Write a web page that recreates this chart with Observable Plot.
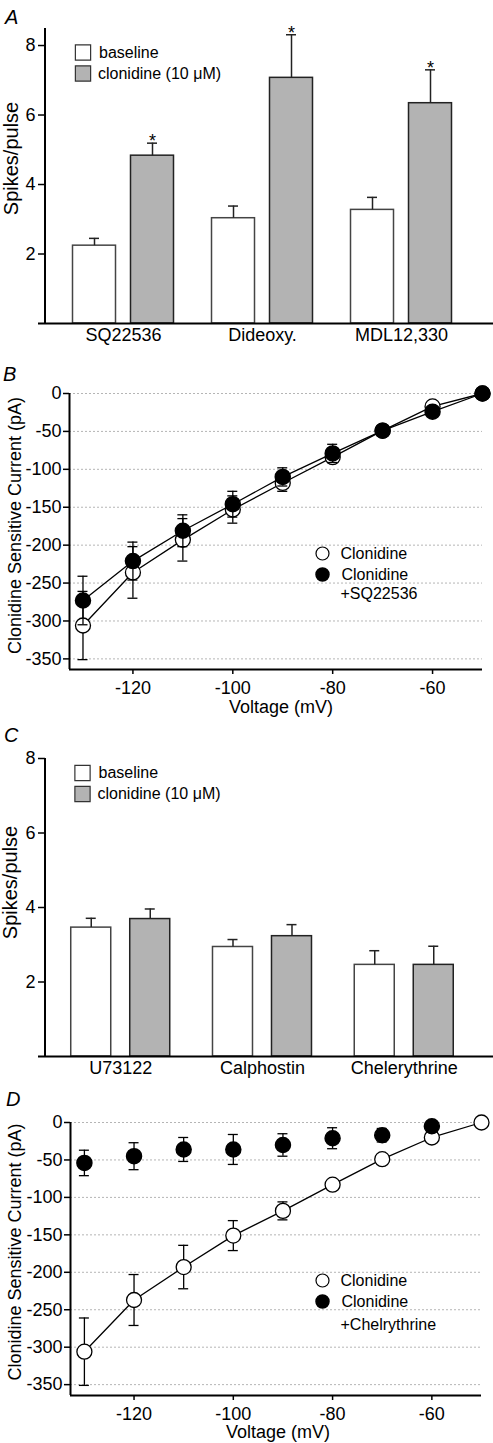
<!DOCTYPE html>
<html>
<head>
<meta charset="utf-8">
<script src="https://cdn.jsdelivr.net/npm/d3@7"></script>
<script src="https://cdn.jsdelivr.net/npm/@observablehq/plot@0.6"></script>
<style>
  html, body { margin: 0; padding: 0; background: #fff; }
  #root { position: relative; width: 493px; height: 1443px; overflow: hidden; font-family: "Liberation Sans", Arial, Helvetica, sans-serif; }
  .panel { position: absolute; left: 0; }
  .letter { position: absolute; font-style: italic; font-size: 20px; line-height: 1; color: #000; }
</style>
</head>
<body>
<div id="root"></div>
<script>
// ---------- DATA ----------
// Panel A
const catsA = ["SQ22536", "Dideoxy.", "MDL12,330"];
const baselineA = [2.24, 3.03, 3.27];
const baselineErrA = [0.21, 0.35, 0.36];
const clonidineA = [4.83, 7.07, 6.34];
const clonidineErrA = [0.36, 1.24, 0.96];
const starsA = [true, true, true];
const ticksA = [2, 4, 6, 8];

// Panel C
const catsC = ["U73122", "Calphostin", "Chelerythrine"];
const baselineC = [3.46, 2.94, 2.46];
const baselineErrC = [0.25, 0.20, 0.38];
const clonidineC = [3.69, 3.23, 2.46];
const clonidineErrC = [0.27, 0.31, 0.50];
const starsC = [false, false, false];
const ticksC = [2, 4, 6, 8];

// Panels B and D (I-V curves)
const voltage = [-130, -120, -110, -100, -90, -80, -70, -60, -50];
const voltageTicks = [-120, -100, -80, -60];
const currentTicks = [0, -50, -100, -150, -200, -250, -300, -350];

const clonidineB = [-306, -236, -193, -153, -118, -84, -49, -17, 0];
const clonidineErrB = [45, 34, 28, 18, 11, 7, 6, 3, 0];
const sqB = [-273, -221, -181, -146, -110, -79, -49, -24, 0];
const sqErrB = [32, 25, 21, 17, 12, 12, 6, 4, 0];

const clonidineD = [-306, -237, -193, -151, -118, -83, -49, -20, 0];
const clonidineErrD = [45, 34, 29, 20, 12, 6, 4, 3, 0];
const voltageChel = [-130, -120, -110, -100, -90, -80, -70, -60];
const chelD = [-54, -45, -36, -36, -30, -21, -17, -5];
const chelErrD = [17, 18, 16, 20, 15, 14, 9, 3];

// ---------- RENDER ----------
const FONT = '"Liberation Sans", Arial, Helvetica, sans-serif';
const hyphen = d => String(d);
const root = document.getElementById("root");
function place(node, top) {
  const d = document.createElement("div");
  d.className = "panel";
  d.style.top = top + "px";
  d.appendChild(node);
  root.appendChild(d);
}
function letter(t, left, top) {
  const d = document.createElement("div");
  d.className = "letter";
  d.textContent = t;
  d.style.left = left + "px";
  d.style.top = top + "px";
  root.appendChild(d);
}

function barChart(o) {
  const rowsBase = o.cats.map((c, i) => ({cat: c, v: o.base[i], top: o.base[i] + o.baseErr[i]}));
  const rowsClo = o.cats.map((c, i) => ({cat: c, v: o.clo[i], top: o.clo[i] + o.cloErr[i], star: o.stars[i]}));
  const ml = 45, width = 493;
  const fw = width - ml;
  const inset = o.bandW - o.barW;
  const off = (o.bandW - o.barW) / 2;
  const capIn = o.barW / 2 - 5, capOut = o.bandW - o.barW / 2 - 5;
  return Plot.plot({
    width, height: o.height,
    marginLeft: ml, marginRight: 0, marginTop: o.marginTop, marginBottom: o.marginBottom,
    style: {fontFamily: FONT, fontSize: "18px", color: "black", background: "white", overflow: "visible"},
    x: {domain: o.cats, paddingInner: o.pi, paddingOuter: o.po, align: o.align, round: false},
    y: {domain: [0, o.yMax]},
    marks: [
      Plot.barY(rowsBase, {x: "cat", y: "v", fill: "white", stroke: "#444", strokeWidth: 1.5, insetRight: inset}),
      Plot.barY(rowsClo, {x: "cat", y: "v", fill: "#b3b3b3", stroke: "#222", strokeWidth: 1.5, insetLeft: inset}),
      Plot.ruleX(rowsBase, {x: "cat", y1: "v", y2: "top", dx: -off, strokeWidth: 1.5, stroke: "#222"}),
      Plot.tickY(rowsBase, {x: "cat", y: "top", insetLeft: capIn, insetRight: capOut, strokeWidth: 1.5, stroke: "#222"}),
      Plot.ruleX(rowsClo, {x: "cat", y1: "v", y2: "top", dx: off, strokeWidth: 1.5, stroke: "#222"}),
      Plot.tickY(rowsClo, {x: "cat", y: "top", insetLeft: capOut, insetRight: capIn, strokeWidth: 1.5, stroke: "#222"}),
      Plot.text(rowsClo.filter(d => d.star), {x: "cat", y: "top", text: () => "*", dx: off, dy: 4, lineAnchor: "bottom", fontSize: 18}),
      Plot.axisY({ticks: o.ticks, tickSize: 7, tickPadding: 3, label: null, strokeWidth: 1.5}),
      Plot.axisX({tickSize: 0, tickPadding: 5, label: null}),
      Plot.ruleY([0], {strokeWidth: 2, insetLeft: -7}),
      Plot.rect([0], {y1: 0, y2: o.yMax, fill: "black", insetLeft: -1, insetRight: fw - 1}),
      Plot.text(["Spikes/pulse"], {frameAnchor: "left", rotate: -90, textAnchor: "middle", lineAnchor: "middle", dx: o.ylabDx, dy: o.ylabDy, fontSize: 20}),
      // legend
      Plot.dot([0], {frameAnchor: "top-left", dx: o.legDx, dy: o.legDy, symbol: "square", r: 8.6, fill: "white", stroke: "#333", strokeWidth: 1.2}),
      Plot.dot([0], {frameAnchor: "top-left", dx: o.legDx, dy: o.legDy + 21, symbol: "square", r: 8.6, fill: "#b3b3b3", stroke: "#333", strokeWidth: 1.2}),
      Plot.text(["baseline"], {frameAnchor: "top-left", dx: o.legDx + 16, dy: o.legDy, textAnchor: "start", lineAnchor: "middle", fontSize: 16}),
      Plot.text(["clonidine (10 μM)"], {frameAnchor: "top-left", dx: o.legDx + 15, dy: o.legDy + 21, textAnchor: "start", lineAnchor: "middle", fontSize: 16})
    ]
  });
}

function ivChart(o) {
  const s1 = voltage.map((v, i) => ({v, c: o.c1[i], e: o.e1[i]}));
  const s2 = o.v2.map((v, i) => ({v, c: o.c2[i], e: o.e2[i]}));
  const errMarks = (s) => [
    Plot.ruleX(s.filter(d => d.e > 0), {x: "v", y1: d => d.c - d.e, y2: d => d.c + d.e, strokeWidth: 1.3}),
    Plot.ruleY(s.filter(d => d.e > 0), {x1: "v", x2: "v", y: d => d.c - d.e, insetLeft: -5, insetRight: -5, strokeWidth: 1.3}),
    Plot.ruleY(s.filter(d => d.e > 0), {x1: "v", x2: "v", y: d => d.c + d.e, insetLeft: -5, insetRight: -5, strokeWidth: 1.3})
  ];
  return Plot.plot({
    width: 493, height: o.height,
    marginLeft: o.ml, marginRight: o.mr, marginTop: o.mt, marginBottom: o.mb,
    style: {fontFamily: FONT, fontSize: "18px", color: "black", background: "white", overflow: "visible"},
    x: {domain: o.xDomain},
    y: {domain: o.yDomain},
    marks: [
      Plot.ruleY(currentTicks, {stroke: "#b5b5b5", strokeDasharray: "2,2", strokeWidth: 1}),
      ...errMarks(s1),
      Plot.line(s1, {x: "v", y: "c", strokeWidth: 1.3}),
      Plot.dot(s1, {x: "v", y: "c", r: 7.5, fill: "white", stroke: "black", strokeWidth: 1.3}),
      ...errMarks(s2),
      o.line2 ? Plot.line(s2, {x: "v", y: "c", strokeWidth: 1.3}) : null,
      Plot.dot(s2, {x: "v", y: "c", r: 7.5, fill: "black", stroke: "black"}),
      Plot.axisY({ticks: currentTicks, tickFormat: hyphen, tickSize: 6, tickPadding: 2, label: null, strokeWidth: 1.5}),
      Plot.axisX({ticks: voltageTicks, tickFormat: hyphen, tickSize: 5, tickPadding: 7, label: null, strokeWidth: 1.5}),
      Plot.ruleX([o.xDomain[0]], {strokeWidth: 2}),
      Plot.ruleY([o.yDomain[0]], {strokeWidth: 2}),
      Plot.text(["Clonidine Sensitive Current (pA)"], {frameAnchor: "left", rotate: -90, textAnchor: "middle", lineAnchor: "middle", dx: o.ylabDx, dy: o.ylabDy, fontSize: 18}),
      Plot.text(["Voltage (mV)"], {frameAnchor: "bottom", textAnchor: "middle", lineAnchor: "middle", dx: o.xlabDx, dy: o.xlabDy, fontSize: 18}),
      // legend
      Plot.dot([0], {frameAnchor: "top-left", dx: o.legDx, dy: o.legDy, r: 6.5, fill: "white", stroke: "black", strokeWidth: 1.2}),
      Plot.dot([0], {frameAnchor: "top-left", dx: o.legDx, dy: o.legDy + 21, r: 6.5, fill: "black", stroke: "black"}),
      Plot.text(["Clonidine"], {frameAnchor: "top-left", dx: o.legDx + 18, dy: o.legDy, textAnchor: "start", lineAnchor: "middle", fontSize: 16}),
      Plot.text(["Clonidine"], {frameAnchor: "top-left", dx: o.legDx + 19, dy: o.legDy + 21, textAnchor: "start", lineAnchor: "middle", fontSize: 16}),
      Plot.text([o.name2], {frameAnchor: "top-left", dx: o.legDx + 18, dy: o.legDy + o.name2Dy, textAnchor: "start", lineAnchor: "middle", fontSize: 16})
    ]
  });
}

place(barChart({
  cats: catsA, base: baselineA, baseErr: baselineErrA, clo: clonidineA, cloErr: clonidineErrA, stars: starsA,
  ticks: ticksA, yMax: 8.49, height: 360, marginTop: 28, marginBottom: 37,
  pi: 0.2734, po: 0.2482, align: 0.3986, bandW: 101, barW: 43,
  ylabDx: -34, ylabDy: -17.5, legDx: 37.5, legDy: 24
}), 0);

place(ivChart({
  c1: clonidineB, e1: clonidineErrB, v2: voltage, c2: sqB, e2: sqErrB, line2: true, name2: "+SQ22536", name2Dy: 40,
  xDomain: [-132.7, -50], yDomain: [-364, 0], height: 360, ml: 69, mr: 11, mt: 33, mb: 51,
  ylabDx: -54, ylabDy: -6, xlabDx: 5, xlabDy: 38, legDx: 253, legDy: 160
}), 360);

place(barChart({
  cats: catsC, base: baselineC, baseErr: baselineErrC, clo: clonidineC, cloErr: clonidineErrC, stars: starsC,
  ticks: ticksC, yMax: 8, height: 360, marginTop: 38, marginBottom: 24,
  pi: 0.3016, po: 0.2310, align: 0.393, bandW: 99, barW: 40,
  ylabDx: -35, ylabDy: -25, legDx: 37, legDy: 14.5
}), 720);

place(ivChart({
  c1: clonidineD, e1: clonidineErrD, v2: voltageChel, c2: chelD, e2: chelErrD, line2: false, name2: "+Chelrythrine", name2Dy: 44,
  xDomain: [-132.8, -50], yDomain: [-364.5, 0], height: 363, ml: 70, mr: 12, mt: 42, mb: 48,
  ylabDx: -55, ylabDy: -7, xlabDx: 2, xlabDy: 37, legDx: 252, legDy: 158
}), 1080);

letter("A", 5, 7);
letter("B", 3, 364);
letter("C", 4, 725);
letter("D", 6, 1089);
</script>
</body>
</html>
